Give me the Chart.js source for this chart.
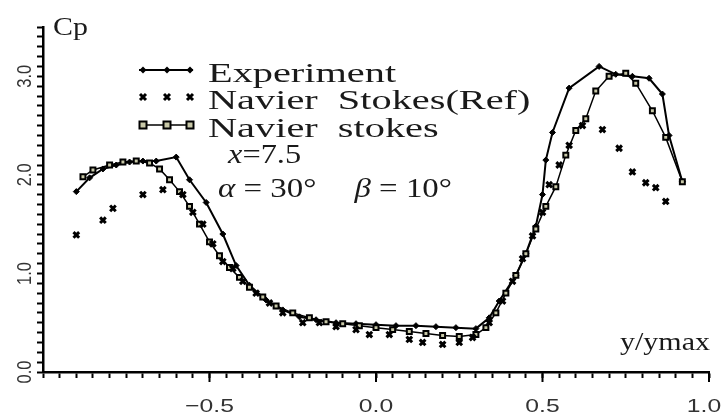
<!DOCTYPE html>
<html lang="en">
  <head>
    <meta charset="UTF-8">
    <title>Cp distribution</title>
    <script src="https://cdn.jsdelivr.net/npm/chart.js"></script>
    <style>
      body { margin: 0; background: #fff; }
      #wrap { width: 723px; height: 414px; }
    </style>
  </head>
  <body>
    <div id="wrap"><canvas id="cpChart"></canvas></div>
    <script>
      // Experiment (line + small markers)
      const xExp = [-0.9, -0.86, -0.82, -0.78, -0.74, -0.7, -0.66, -0.6, -0.56, -0.51, -0.46, -0.42, -0.38, -0.33, -0.28, -0.23, -0.18, -0.12, -0.06, 0.0, 0.06, 0.12, 0.18, 0.24, 0.3, 0.34, 0.37, 0.42, 0.45, 0.48, 0.5, 0.51, 0.53, 0.58, 0.67, 0.72, 0.77, 0.82, 0.86, 0.88, 0.92];
      const cpExp = [1.83, 1.97, 2.06, 2.1, 2.13, 2.14, 2.14, 2.18, 1.95, 1.72, 1.4, 1.08, 0.88, 0.73, 0.63, 0.56, 0.53, 0.5, 0.49, 0.48, 0.47, 0.47, 0.46, 0.45, 0.44, 0.55, 0.72, 0.98, 1.2, 1.48, 1.8, 2.15, 2.43, 2.88, 3.1, 3.02, 3.0, 2.98, 2.82, 2.4, 1.93];

      // Navier Stokes (Ref) (x markers only)
      const xRef = [-0.9, -0.82, -0.79, -0.7, -0.64, -0.58, -0.55, -0.52, -0.49, -0.46, -0.43, -0.4, -0.36, -0.32, -0.28, -0.22, -0.17, -0.12, -0.06, -0.02, 0.04, 0.1, 0.14, 0.2, 0.25, 0.29, 0.34, 0.38, 0.41, 0.44, 0.47, 0.5, 0.52, 0.55, 0.58, 0.62, 0.68, 0.73, 0.77, 0.81, 0.84, 0.87];
      const cpRef = [1.39, 1.54, 1.66, 1.8, 1.85, 1.8, 1.62, 1.5, 1.3, 1.12, 1.05, 0.92, 0.8, 0.7, 0.6, 0.5, 0.5, 0.46, 0.43, 0.38, 0.38, 0.33, 0.3, 0.28, 0.3, 0.35, 0.5, 0.72, 0.92, 1.15, 1.38, 1.62, 1.9, 2.1, 2.3, 2.5, 2.46, 2.27, 2.03, 1.92, 1.87, 1.73];

      // Navier stokes (line + squares)
      const xNs = [-0.88, -0.85, -0.8, -0.76, -0.72, -0.68, -0.65, -0.62, -0.59, -0.56, -0.53, -0.5, -0.47, -0.44, -0.41, -0.38, -0.34, -0.3, -0.25, -0.2, -0.15, -0.1, -0.05, 0, 0.05, 0.1, 0.15, 0.2, 0.25, 0.3, 0.33, 0.36, 0.39, 0.42, 0.45, 0.48, 0.51, 0.54, 0.57, 0.6, 0.63, 0.66, 0.7, 0.75, 0.78, 0.83, 0.87, 0.92];
      const cpNs = [1.98, 2.05, 2.1, 2.13, 2.14, 2.12, 2.06, 1.95, 1.83, 1.68, 1.5, 1.32, 1.18, 1.06, 0.96, 0.86, 0.76, 0.67, 0.6, 0.55, 0.51, 0.49, 0.47, 0.45, 0.43, 0.41, 0.39, 0.37, 0.36, 0.38, 0.45, 0.6, 0.8, 0.98, 1.2, 1.45, 1.68, 1.88, 2.2, 2.45, 2.57, 2.85, 3.0, 3.03, 2.93, 2.65, 2.38, 1.93];

      const xTickLabels = [-0.5, 0.0, 0.5, 1.0];
      const yTickLabels = [0.0, 1.0, 2.0, 3.0];
      const legendNames = ["Experiment", "Navier  Stokes(Ref)", "Navier  stokes"];

      const SERIF = '"Liberation Serif", "Times New Roman", serif';
      const SANS = '"Liberation Sans", Arial, sans-serif';

      function pts(xs, ys) {
        return xs.map((x, i) => ({ x: x, y: ys[i] }));
      }

      // text stretched horizontally like the scanned figure
      function sText(ctx, txt, x, y, font, sx, align) {
        ctx.save();
        ctx.font = font;
        ctx.textAlign = "left";
        ctx.textBaseline = "alphabetic";
        const w = ctx.measureText(txt).width * sx;
        let left = x;
        if (align === "center") left = x - w / 2;
        if (align === "right") left = x - w;
        ctx.translate(left, y);
        ctx.scale(sx, 1);
        ctx.fillText(txt, 0, 0);
        ctx.restore();
        return left + w;
      }

      function fmt(v) {
        const s = Math.abs(v).toFixed(1);
        return v < 0 ? "\u2212" + s : s;
      }

      function drawMarker(ctx, kind, x, y) {
        ctx.save();
        ctx.strokeStyle = "#000";
        ctx.fillStyle = "#000";
        if (kind === 0) {
          ctx.beginPath();
          ctx.moveTo(x, y - 3.5); ctx.lineTo(x + 3.5, y); ctx.lineTo(x, y + 3.5); ctx.lineTo(x - 3.5, y);
          ctx.closePath(); ctx.fill();
        } else if (kind === 1) {
          ctx.lineWidth = 3;
          ctx.beginPath();
          ctx.moveTo(x - 3, y - 3); ctx.lineTo(x + 3, y + 3);
          ctx.moveTo(x + 3, y - 3); ctx.lineTo(x - 3, y + 3);
          ctx.stroke();
        } else {
          ctx.fillStyle = "#c8c8a8";
          ctx.lineWidth = 2;
          ctx.fillRect(x - 3.5, y - 3.5, 7, 7);
          ctx.strokeRect(x - 3.5, y - 3.5, 7, 7);
        }
        ctx.restore();
      }

      const decorations = {
        id: "decorations",
        afterDraw(chart) {
          const ctx = chart.ctx;
          const xs = chart.scales.x;
          const ys = chart.scales.y;
          ctx.save();

          // longer major ticks on x
          ctx.strokeStyle = "#000";
          ctx.lineWidth = 2;
          xTickLabels.forEach((v) => {
            const px = xs.getPixelForValue(v);
            ctx.beginPath();
            ctx.moveTo(px, ys.bottom);
            ctx.lineTo(px, ys.bottom + 10);
            ctx.stroke();
          });

          // x tick labels
          ctx.fillStyle = "#333";
          xTickLabels.forEach((v) => {
            const px = xs.getPixelForValue(v);
            sText(ctx, fmt(v), Math.min(px, 704), 412, "19px " + SANS, 1.3, "center");
          });

          // y tick labels, rotated
          yTickLabels.forEach((v) => {
            const py = ys.getPixelForValue(v);
            ctx.save();
            ctx.font = "16.5px " + SANS;
            ctx.translate(25, py);
            ctx.rotate(-Math.PI / 2);
            ctx.scale(1, 1.26);
            ctx.textAlign = "center";
            ctx.textBaseline = "middle";
            ctx.fillText(fmt(v), 0, 0);
            ctx.restore();
          });

          ctx.fillStyle = "#1a1a1a";
          // axis titles
          sText(ctx, "Cp", 53, 35, "26px " + SERIF, 1.15, "left");
          sText(ctx, "y/ymax", 710, 350, "25px " + SERIF, 1.2, "right");

          // legend
          const rows = [70, 97, 125];
          rows.forEach((ry, i) => {
            if (i !== 1) {
              ctx.strokeStyle = "#000";
              ctx.lineWidth = i === 0 ? 2 : 1.5;
              ctx.beginPath();
              ctx.moveTo(139, ry);
              ctx.lineTo(193, ry);
              ctx.stroke();
            }
            [143, 167, 190].forEach((mx) => drawMarker(ctx, i, mx, ry));
            sText(ctx, legendNames[i], 208, ry + 12, "28px " + SERIF, 1.44, "left");
          });

          // case parameters
          let e = sText(ctx, "x", 228, 163, "italic 27px " + SERIF, 1.2, "left");
          sText(ctx, "=7.5", e, 163, "27px " + SERIF, 1.2, "left");
          e = sText(ctx, "\u03b1", 218, 197, "italic 27px " + SERIF, 1.22, "left");
          e = sText(ctx, " = 30\u00b0", e, 197, "27px " + SERIF, 1.22, "left");
          e = sText(ctx, "\u03b2", e + 38, 197, "italic 27px " + SERIF, 1.22, "left");
          sText(ctx, " = 10\u00b0", e, 197, "27px " + SERIF, 1.22, "left");
          ctx.restore();
        },
      };

      const ctx = document.getElementById("cpChart").getContext("2d");
      new Chart(ctx, {
        type: "scatter",
        data: {
          datasets: [
            {
              label: "Navier  Stokes(Ref)",
              data: pts(xRef, cpRef),
              showLine: false,
              pointStyle: "crossRot",
              pointRadius: 4,
              borderColor: "#000",
              borderWidth: 3,
            },
            {
              label: "Navier  stokes",
              data: pts(xNs, cpNs),
              showLine: true,
              borderColor: "#000",
              borderWidth: 1.5,
              pointStyle: "rect",
              pointRadius: 3.5,
              pointBackgroundColor: "#c8c8a8",
              pointBorderColor: "#000",
              pointBorderWidth: 2,
            },
            {
              label: "Experiment",
              data: pts(xExp, cpExp),
              showLine: true,
              borderColor: "#000",
              borderWidth: 2,
              pointStyle: "rectRot",
              pointRadius: 3,
              pointBackgroundColor: "#000",
              pointBorderColor: "#000",
              pointBorderWidth: 1,
            },
          ],
        },
        options: {
          responsive: true,
          maintainAspectRatio: false,
          animation: false,
          layout: { padding: { left: 37, right: 14, top: 27, bottom: 36 } },
          plugins: {
            legend: { display: false },
            tooltip: { enabled: false },
          },
          scales: {
            x: {
              type: "linear",
              min: -1,
              max: 1,
              ticks: { display: false, stepSize: 0.05, autoSkip: false, maxTicksLimit: 100 },
              grid: {
                drawOnChartArea: false,
                tickLength: 6,
                tickColor: "#000",
                tickWidth: 2,
              },
              border: { display: true, color: "#000", width: 2.5 },
            },
            y: {
              type: "linear",
              min: 0,
              max: 3.5,
              ticks: { display: false, stepSize: 0.1, autoSkip: false, maxTicksLimit: 100 },
              grid: {
                drawOnChartArea: false,
                tickLength: 6,
                tickColor: "#000",
                tickWidth: 2,
              },
              border: { display: true, color: "#000", width: 2.5 },
            },
          },
        },
        plugins: [decorations],
      });
    </script>
  </body>
</html>
